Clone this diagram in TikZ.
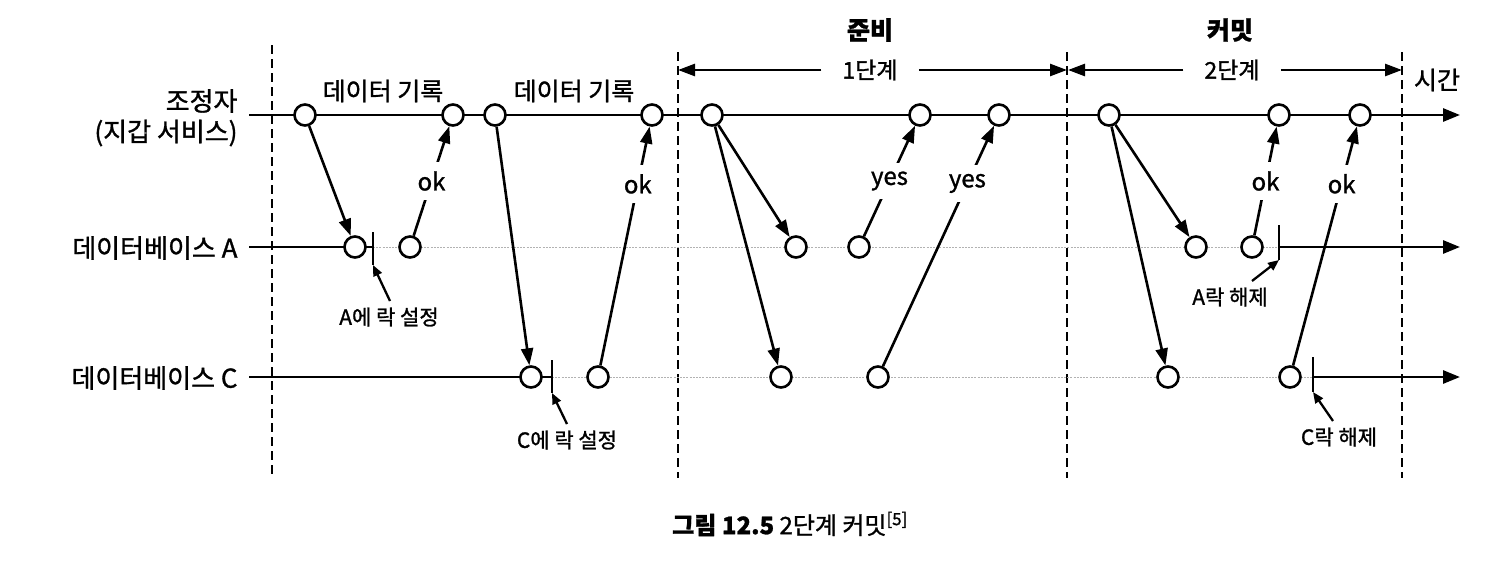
\documentclass[tikz,border=0pt]{standalone}
\usepackage{fontspec}
\setmainfont{Noto Sans CJK KR}[RawFeature={embolden=1.2}]
\usetikzlibrary{arrows.meta}
\begin{document}
\begin{tikzpicture}[x=1pt,y=-1pt,
  ev/.style={circle,draw,line width=2.6pt,fill=white,minimum size=21pt,inner sep=0pt},
  axisline/.style={line width=2.8pt},
  tarrow/.style={line width=2.8pt,-{Triangle[length=17pt,width=13pt]}},
  msg/.style={line width=2.6pt,-{Triangle[length=17pt,width=12pt]}},
  small/.style={line width=2.3pt,-{Triangle[length=11pt,width=9pt]}},
  phaseline/.style={dash pattern=on 9pt off 5pt,line width=2.4pt},
  faint/.style={gray!60,line width=1pt,dash pattern=on 2pt off 1.2pt},
  lbl/.style={fill=white,inner xsep=2pt,inner ysep=9pt,font=\fontsize{24}{26}\selectfont},
  big/.style={font=\fontsize{26}{30}\selectfont},
  mid/.style={font=\fontsize{25}{28}\selectfont},
  note/.style={font=\fontsize{21}{24}\selectfont,inner sep=1pt},
  tick/.style={line width=2.6pt}
]
\useasboundingbox (0,0) rectangle (1508,560);

% phase separators
\coordinate (d1t) at (272,45);  \coordinate (d1b) at (272,478);
\coordinate (d2t) at (678,52);  \coordinate (d2b) at (678,478);
\coordinate (d3t) at (1067,52); \coordinate (d3b) at (1067,478);
\coordinate (d4t) at (1402,52); \coordinate (d4b) at (1402,478);
\draw[phaseline] (d1t) -- (d1b);
\draw[phaseline] (d2t) -- (d2b);
\draw[phaseline] (d3t) -- (d3b);
\draw[phaseline] (d4t) -- (d4b);

% left labels
\node[big,anchor=east] (lc1) at (241,101) {조정자};
\node[big,anchor=east] (lc2) at (241,133) {(지갑 서비스)};
\node[big,anchor=east] (la) at (241,248) {데이터베이스 A};
\node[big,anchor=east] (lk) at (241,378) {데이터베이스 C};

% time lines
\coordinate (cs) at (249,115); \coordinate (ce) at (1460,115);
\coordinate (as) at (249,247); \coordinate (ae) at (1460,247);
\coordinate (ks) at (249,377); \coordinate (ke) at (1460,377);

% lock ticks
\coordinate (tA1) at (373,232); \coordinate (tA2) at (373,265);
\coordinate (tC1) at (552,360); \coordinate (tC2) at (552,393);
\coordinate (rA1) at (1279,225); \coordinate (rA2) at (1279,260);
\coordinate (rC1) at (1313,357); \coordinate (rC2) at (1313,392);
\coordinate (tAm) at (373,247); \coordinate (tCm) at (552,377);
\coordinate (rAm) at (1279,247); \coordinate (rCm) at (1313,377);

\draw[tarrow] (cs) -- (ce);
\draw[axisline] (as) -- (tAm);
\draw[faint] (tAm) -- (rAm);
\draw[tarrow] (rAm) -- (ae);
\draw[axisline] (ks) -- (tCm);
\draw[faint] (tCm) -- (rCm);
\draw[tarrow] (rCm) -- (ke);

\draw[tick] (tA1) -- (tA2);
\draw[tick] (tC1) -- (tC2);
\draw[tick] (rA1) -- (rA2);
\draw[tick] (rC1) -- (rC2);

% events on coordinator
\node[ev] (c1) at (305,115) {};
\node[ev] (c2) at (453,115) {};
\node[ev] (c3) at (495,115) {};
\node[ev] (c4) at (652,115) {};
\node[ev] (c5) at (712,115) {};
\node[ev] (c6) at (920,115) {};
\node[ev] (c7) at (999,115) {};
\node[ev] (c8) at (1109,115) {};
\node[ev] (c9) at (1279,115) {};
\node[ev] (c10) at (1360,115) {};
% events on A
\node[ev] (a1) at (355,247) {};
\node[ev] (a2) at (410,247) {};
\node[ev] (a3) at (796,247) {};
\node[ev] (a4) at (859,247) {};
\node[ev] (a5) at (1196,247) {};
\node[ev] (a6) at (1252,247) {};
% events on C
\node[ev] (k1) at (531,377) {};
\node[ev] (k2) at (598,377) {};
\node[ev] (k3) at (781,377) {};
\node[ev] (k4) at (878,377) {};
\node[ev] (k5) at (1168,377) {};
\node[ev] (k6) at (1290,377) {};

% messages
\draw[msg] (c1) -- (a1);
\draw[msg] (a2) -- node[lbl,pos=0.5]{ok} (c2);
\draw[msg] (c3) -- (k1);
\draw[msg] (k2) -- node[lbl,pos=0.76]{ok} (c4);
\draw[msg] (c5) -- (a3);
\draw[msg] (c5) -- (k3);
\draw[msg] (a4) -- node[lbl,pos=0.5]{yes} (c6);
\draw[msg] (k4) -- node[lbl,pos=0.76]{yes} (c7);
\draw[msg] (c8) -- (a5);
\draw[msg] (c8) -- (k5);
\draw[msg] (a6) -- node[lbl,pos=0.5]{ok} (c9);
\draw[msg] (k6) -- node[lbl,pos=0.76]{ok} (c10);

% write labels
\node[mid] (w1) at (383,91) {데이터 기록};
\node[mid] (w2) at (574,91) {데이터 기록};

% lock notes
\node[note] (nA) at (389,317) {A에 락 설정};
\node[note] (nC) at (567,440) {C에 락 설정};
\node[note] (nRA) at (1230,297) {A락 해제};
\node[note] (nRC) at (1339,437) {C락 해제};
\coordinate (nAt) at (390,301);
\coordinate (nCt) at (567,424);
\coordinate (nRAt) at (1252,281);
\coordinate (nRCt) at (1333,421);
\draw[small] (nAt) -- (tA2);
\draw[small] (nCt) -- (tC2);
\draw[small] (nRAt) -- (rA2);
\draw[small] (nRCt) -- (rC2);

% phases
\node[font=\fontsize{25}{28}\selectfont\bfseries] (pn1) at (870,30) {준비};
\node[font=\fontsize{25}{28}\selectfont\bfseries] (pn2) at (1230,30) {커밋};
\node[font=\fontsize{23}{26}\selectfont,inner xsep=21pt] (ph1) at (870,70) {1단계};
\node[font=\fontsize{23}{26}\selectfont,inner xsep=21pt] (ph2) at (1232,70) {2단계};
\coordinate (ph1L) at (678,70); \coordinate (ph1R) at (1067,70);
\coordinate (ph2L) at (1068,70); \coordinate (ph2R) at (1402,70);
\draw[msg] (ph1.west) -- (ph1L);
\draw[msg] (ph1.east) -- (ph1R);
\draw[msg] (ph2.west) -- (ph2L);
\draw[msg] (ph2.east) -- (ph2R);

\node[mid] (time) at (1437,80) {시간};

% caption
\node[font=\fontsize{24}{28}\selectfont] (cap) at (790,524) {\textbf{그림 12.5} 2단계 커밋\textsuperscript{[5]}};
\end{tikzpicture}
\end{document}
